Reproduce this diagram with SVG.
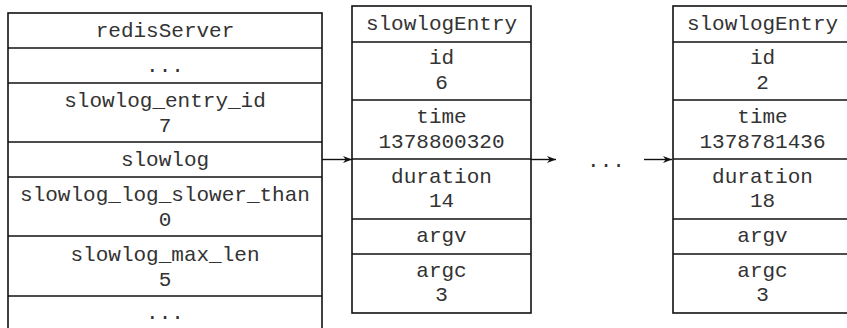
<svg xmlns="http://www.w3.org/2000/svg" width="847" height="328" viewBox="0 0 847 328">
<style>
.box{fill:#fff;stroke:#111;stroke-width:1.6}
.sep{stroke:#111;stroke-width:1.6}
.t{font-family:"Liberation Mono","Courier New",monospace;font-size:21px;fill:#333;text-anchor:middle}
.conn{stroke:#111;stroke-width:1.4;fill:none}
</style>
<defs>
<marker id="ah" viewBox="0 0 10 10" refX="10" refY="5" markerWidth="9" markerHeight="9" markerUnits="userSpaceOnUse" orient="auto">
<path d="M0,1 L10,5 L0,9 L3,5 z" fill="#111"/>
</marker>
</defs>
<rect width="847" height="328" fill="#fff"/>
<g id="redisServer">
<rect class="box" x="8" y="13" width="314" height="318"/>
<line class="sep" x1="8" y1="48" x2="322" y2="48"/>
<line class="sep" x1="8" y1="83" x2="322" y2="83"/>
<line class="sep" x1="8" y1="142" x2="322" y2="142"/>
<line class="sep" x1="8" y1="177" x2="322" y2="177"/>
<line class="sep" x1="8" y1="236" x2="322" y2="236"/>
<line class="sep" x1="8" y1="296" x2="322" y2="296"/>
<text class="t" x="165" y="37">redisServer</text>
<text class="t" x="165" y="72">...</text>
<text class="t" x="165" y="107">slowlog_entry_id</text>
<text class="t" x="165" y="132">7</text>
<text class="t" x="165" y="166">slowlog</text>
<text class="t" x="165" y="201">slowlog_log_slower_than</text>
<text class="t" x="165" y="226">0</text>
<text class="t" x="165" y="261">slowlog_max_len</text>
<text class="t" x="165" y="286">5</text>
<text class="t" x="165" y="319">...</text>
</g>
<g id="entry1">
<rect class="box" x="352" y="6" width="179" height="307"/>
<line class="sep" x1="352" y1="42" x2="531" y2="42"/>
<line class="sep" x1="352" y1="100" x2="531" y2="100"/>
<line class="sep" x1="352" y1="159" x2="531" y2="159"/>
<line class="sep" x1="352" y1="219" x2="531" y2="219"/>
<line class="sep" x1="352" y1="254" x2="531" y2="254"/>
<text class="t" x="441.5" y="30">slowlogEntry</text>
<text class="t" x="441.5" y="64">id</text>
<text class="t" x="441.5" y="89">6</text>
<text class="t" x="441.5" y="123">time</text>
<text class="t" x="441.5" y="148">1378800320</text>
<text class="t" x="441.5" y="183">duration</text>
<text class="t" x="441.5" y="207">14</text>
<text class="t" x="441.5" y="242">argv</text>
<text class="t" x="441.5" y="277">argc</text>
<text class="t" x="441.5" y="301">3</text>
</g>
<g id="entry2">
<rect class="box" x="673" y="6" width="179" height="307"/>
<line class="sep" x1="673" y1="42" x2="852" y2="42"/>
<line class="sep" x1="673" y1="100" x2="852" y2="100"/>
<line class="sep" x1="673" y1="159" x2="852" y2="159"/>
<line class="sep" x1="673" y1="219" x2="852" y2="219"/>
<line class="sep" x1="673" y1="254" x2="852" y2="254"/>
<text class="t" x="762.5" y="30">slowlogEntry</text>
<text class="t" x="762.5" y="64">id</text>
<text class="t" x="762.5" y="89">2</text>
<text class="t" x="762.5" y="123">time</text>
<text class="t" x="762.5" y="148">1378781436</text>
<text class="t" x="762.5" y="183">duration</text>
<text class="t" x="762.5" y="207">18</text>
<text class="t" x="762.5" y="242">argv</text>
<text class="t" x="762.5" y="277">argc</text>
<text class="t" x="762.5" y="301">3</text>
</g>
<g id="ellipsis">
<text class="t" x="606" y="167">...</text>
</g>
<g id="connectors">
<line class="conn" x1="322" y1="159.5" x2="352" y2="159.5" marker-end="url(#ah)"/>
<line class="conn" x1="531" y1="159.5" x2="556" y2="159.5" marker-end="url(#ah)"/>
<line class="conn" x1="644" y1="159.5" x2="672" y2="159.5" marker-end="url(#ah)"/>
</g>
</svg>
